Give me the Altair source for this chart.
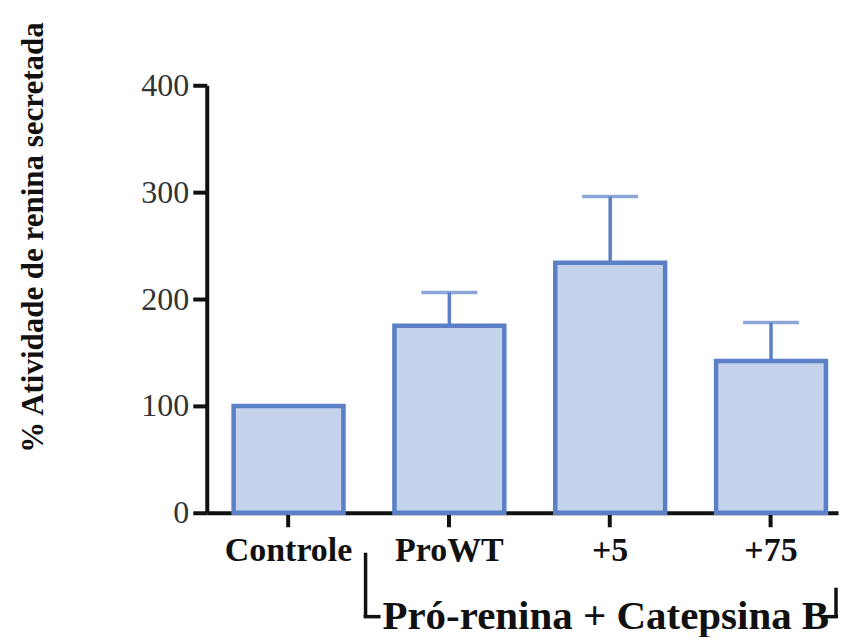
import altair as alt
import pandas as pd

# ---- data ----
groups = ["Controle", "ProWT", "+5", "+75"]
means = [100, 175, 234, 142]
errs = [0, 31, 62, 36]
y_ticks = [0, 100, 200, 300, 400]

df = pd.DataFrame({"grupo": groups, "media": means, "erro": errs})
df["topo"] = df["media"] + df["erro"]
df_err = df[df["erro"] > 0]

FILL = "#c4d2ec"
STROKE = "#5b80c6"
FONT = "Liberation Serif"
INK = "#111111"

xenc = alt.X(
    "grupo:N",
    sort=groups,
    scale=alt.Scale(paddingInner=0.317, paddingOuter=0.121, align=0.69),
    axis=alt.Axis(
        title="Pró-renina + Catepsina B",
        titleX=399, titleY=116, titleAlign="center", titleBaseline="alphabetic",
        titleFontSize=41, titleFontWeight="bold", titleFont=FONT, titleColor=INK,
        labelAngle=0, labelFont=FONT, labelFontSize=34, labelFontWeight="bold",
        labelColor=INK, labelPadding=7,
        tickSize=14, tickWidth=4, tickColor=INK,
        domainColor=INK, domainWidth=4,
    ),
)

yaxis = alt.Axis(
    values=y_ticks,
    title="% Atividade de renina secretada",
    titleX=-188, titleY=152, titleAngle=270, titleAlign="center", titleBaseline="top",
    titleFontSize=31, titleFontWeight="bold", titleFont=FONT, titleColor=INK,
    labelFont=FONT, labelFontSize=32, labelColor="#333333", labelPadding=4,
    tickSize=14, tickWidth=4, tickColor=INK,
    domainColor=INK, domainWidth=4, grid=False,
)

base = alt.Chart(df)

err_line = alt.Chart(df_err).mark_rule(color=STROKE, strokeWidth=3.5).encode(
    x=xenc,
    y=alt.Y("media:Q", scale=alt.Scale(domain=[0, 400]), axis=yaxis),
    y2="topo:Q",
)
err_cap = alt.Chart(df_err).mark_tick(
    orient="horizontal", size=56, thickness=3.5, color=STROKE
).encode(x=xenc, y=alt.Y("topo:Q"))

bars = base.mark_bar(fill=FILL, stroke=STROKE, strokeWidth=4.5).encode(
    x=xenc,
    y=alt.Y("media:Q", scale=alt.Scale(domain=[0, 400]), axis=yaxis),
)

one = pd.DataFrame({"k": [0]})
rule_style = dict(color=INK, strokeWidth=3.5)
br1 = alt.Chart(one).mark_rule(**rule_style).encode(
    x=alt.value(159), y=alt.value(468), y2=alt.value(532))
br2 = alt.Chart(one).mark_rule(**rule_style).encode(
    x=alt.value(157), x2=alt.value(174), y=alt.value(532))
br3 = alt.Chart(one).mark_rule(**rule_style).encode(
    x=alt.value(616), x2=alt.value(632), y=alt.value(532))
br4 = alt.Chart(one).mark_rule(**rule_style).encode(
    x=alt.value(630), y=alt.value(503), y2=alt.value(533))

chart = (
    alt.layer(err_line, err_cap, bars, br1, br2, br3, br4)
    .properties(
        width=632, height=428,
        padding={"left": 10, "top": 12, "right": 0, "bottom": 0},
        background="white",
    )
    .configure_view(stroke=None)
)

chart.save("out.html", embed_options={"renderer": "svg", "actions": False})
